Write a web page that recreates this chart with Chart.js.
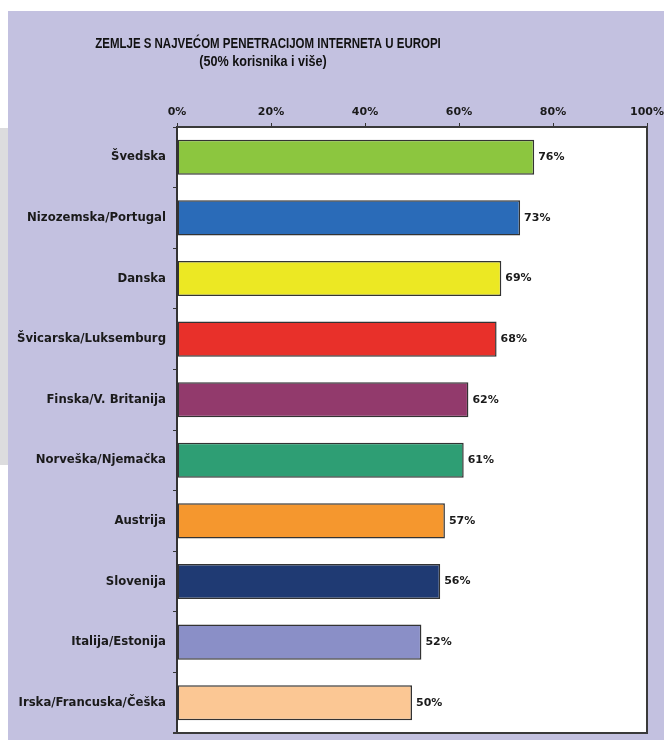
<!DOCTYPE html>
<html>
<head>
<meta charset="utf-8">
<title>Internet u Europi</title>
<script src="https://cdn.jsdelivr.net/npm/chart.js@4.4.1/dist/chart.umd.min.js"></script>
<style>
  body { margin: 0; background: #ffffff; width: 664px; height: 740px; position: relative; overflow: hidden; }
  #side { position: absolute; left: 0; top: 128px; width: 8px; height: 337px; background: #dcdcde; }
  #panel { position: absolute; left: 8px; top: 11px; width: 656px; height: 729px; background: #c3c1e0; }
  #Chart { display: block; }
</style>
</head>
<body>
<div id="side"></div>
<div id="panel"><canvas id="Chart" width="656" height="729"></canvas></div>
<script>
const countries = [
  "Švedska", "Nizozemska/Portugal", "Danska", "Švicarska/Luksemburg",
  "Finska/V. Britanija", "Norveška/Njemačka", "Austrija", "Slovenija",
  "Italija/Estonija", "Irska/Francuska/Češka"
];
const penetration = [76, 73, 69, 68, 62, 61, 57, 56, 52, 50];
const barColors = [
  "#8cc63f", "#2a6bb8", "#ece823", "#e8302a", "#923a6c",
  "#2e9e74", "#f5972e", "#1f3a73", "#8a8fc7", "#fbc794"
];
const xTicks = [0, 20, 40, 60, 80, 100];
const titleLines = ["ZEMLJE S NAJVEĆOM PENETRACIJOM INTERNETA U EUROPI", "(50% korisnika i više)"];

const FONT = "'DejaVu Sans', Verdana, sans-serif";
const AXIS = "#333333";

// condensed heading text: squeeze horizontally around its centre
function narrowText(ctx, text, x, y, squeeze) {
  ctx.save();
  ctx.translate(x, y);
  ctx.scale(squeeze, 1);
  ctx.fillText(text, 0, 0);
  ctx.restore();
}

// white plot area, heading and the closing frame on right/bottom
const frame = {
  id: "frame",
  beforeDraw(chart) {
    const { ctx, chartArea: a } = chart;
    ctx.save();
    ctx.fillStyle = "#ffffff";
    ctx.fillRect(a.left, a.top, a.right - a.left, a.bottom - a.top);
    ctx.fillStyle = "#111111";
    ctx.textAlign = "center";
    ctx.textBaseline = "middle";
    ctx.font = "bold 14px 'Liberation Sans', Arial, sans-serif";
    narrowText(ctx, titleLines[0], 260, 33, 0.82);
    ctx.font = "bold 14px 'Liberation Sans', Arial, sans-serif";
    narrowText(ctx, titleLines[1], 255, 51, 0.9);
    ctx.restore();
  },
  afterDraw(chart) {
    const { ctx, chartArea: a } = chart;
    ctx.save();
    ctx.strokeStyle = "#3a3a3a";
    ctx.lineWidth = 2;
    ctx.beginPath();
    ctx.moveTo(a.left, a.top);
    ctx.lineTo(a.right, a.top);
    ctx.lineTo(a.right, a.bottom);
    ctx.lineTo(a.left - 4, a.bottom);
    ctx.stroke();
    ctx.restore();
  }
};

// percentage next to each bar end
const valueLabels = {
  id: "valueLabels",
  afterDatasetsDraw(chart) {
    const { ctx } = chart;
    const meta = chart.getDatasetMeta(0);
    ctx.save();
    ctx.font = "bold 11px " + FONT;
    ctx.fillStyle = "#1a1a1a";
    ctx.textAlign = "left";
    ctx.textBaseline = "middle";
    meta.data.forEach((bar, i) => {
      ctx.fillText(penetration[i] + "%", bar.x + 4, bar.y);
    });
    ctx.restore();
  }
};

new Chart(document.getElementById("Chart"), {
  type: "bar",
  data: {
    labels: countries,
    datasets: [{
      data: penetration,
      backgroundColor: barColors,
      borderColor: "#333333",
      borderWidth: 1.5,
      borderSkipped: false,
      barPercentage: 0.58,
      categoryPercentage: 1
    }]
  },
  options: {
    indexAxis: "y",
    responsive: false,
    animation: false,
    layout: { padding: { left: 0, right: 17, top: 0, bottom: 7 } },
    plugins: {
      legend: { display: false },
      tooltip: { enabled: false },
      title: { display: false }
    },
    scales: {
      x: {
        position: "top",
        min: 0,
        max: 100,
        afterBuildTicks(scale) {
          scale.ticks = xTicks.map((v) => ({ value: v }));
        },
        afterFit(scale) {
          scale.height = 116;
          scale.paddingLeft = 0;
          scale.paddingRight = 0;
        },
        grid: { drawOnChartArea: false, drawTicks: true, tickLength: 4, color: AXIS },
        border: { display: true, color: AXIS, width: 2 },
        ticks: {
          color: "#1a1a1a",
          font: { family: FONT, size: 11, weight: "bold" },
          padding: 4,
          maxRotation: 0,
          callback: (v) => v + "%"
        }
      },
      y: {
        afterFit(scale) {
          scale.width = 169;
          scale.paddingTop = 0;
          scale.paddingBottom = 0;
        },
        grid: { drawOnChartArea: false, drawTicks: true, tickLength: 4, color: AXIS, offset: true },
        border: { display: true, color: AXIS, width: 2 },
        ticks: {
          color: "#1a1a1a",
          font: { family: FONT, size: 11.7, weight: "bold" },
          padding: 7,
          autoSkip: false
        }
      }
    }
  },
  plugins: [frame, valueLabels]
});
</script>
</body>
</html>
